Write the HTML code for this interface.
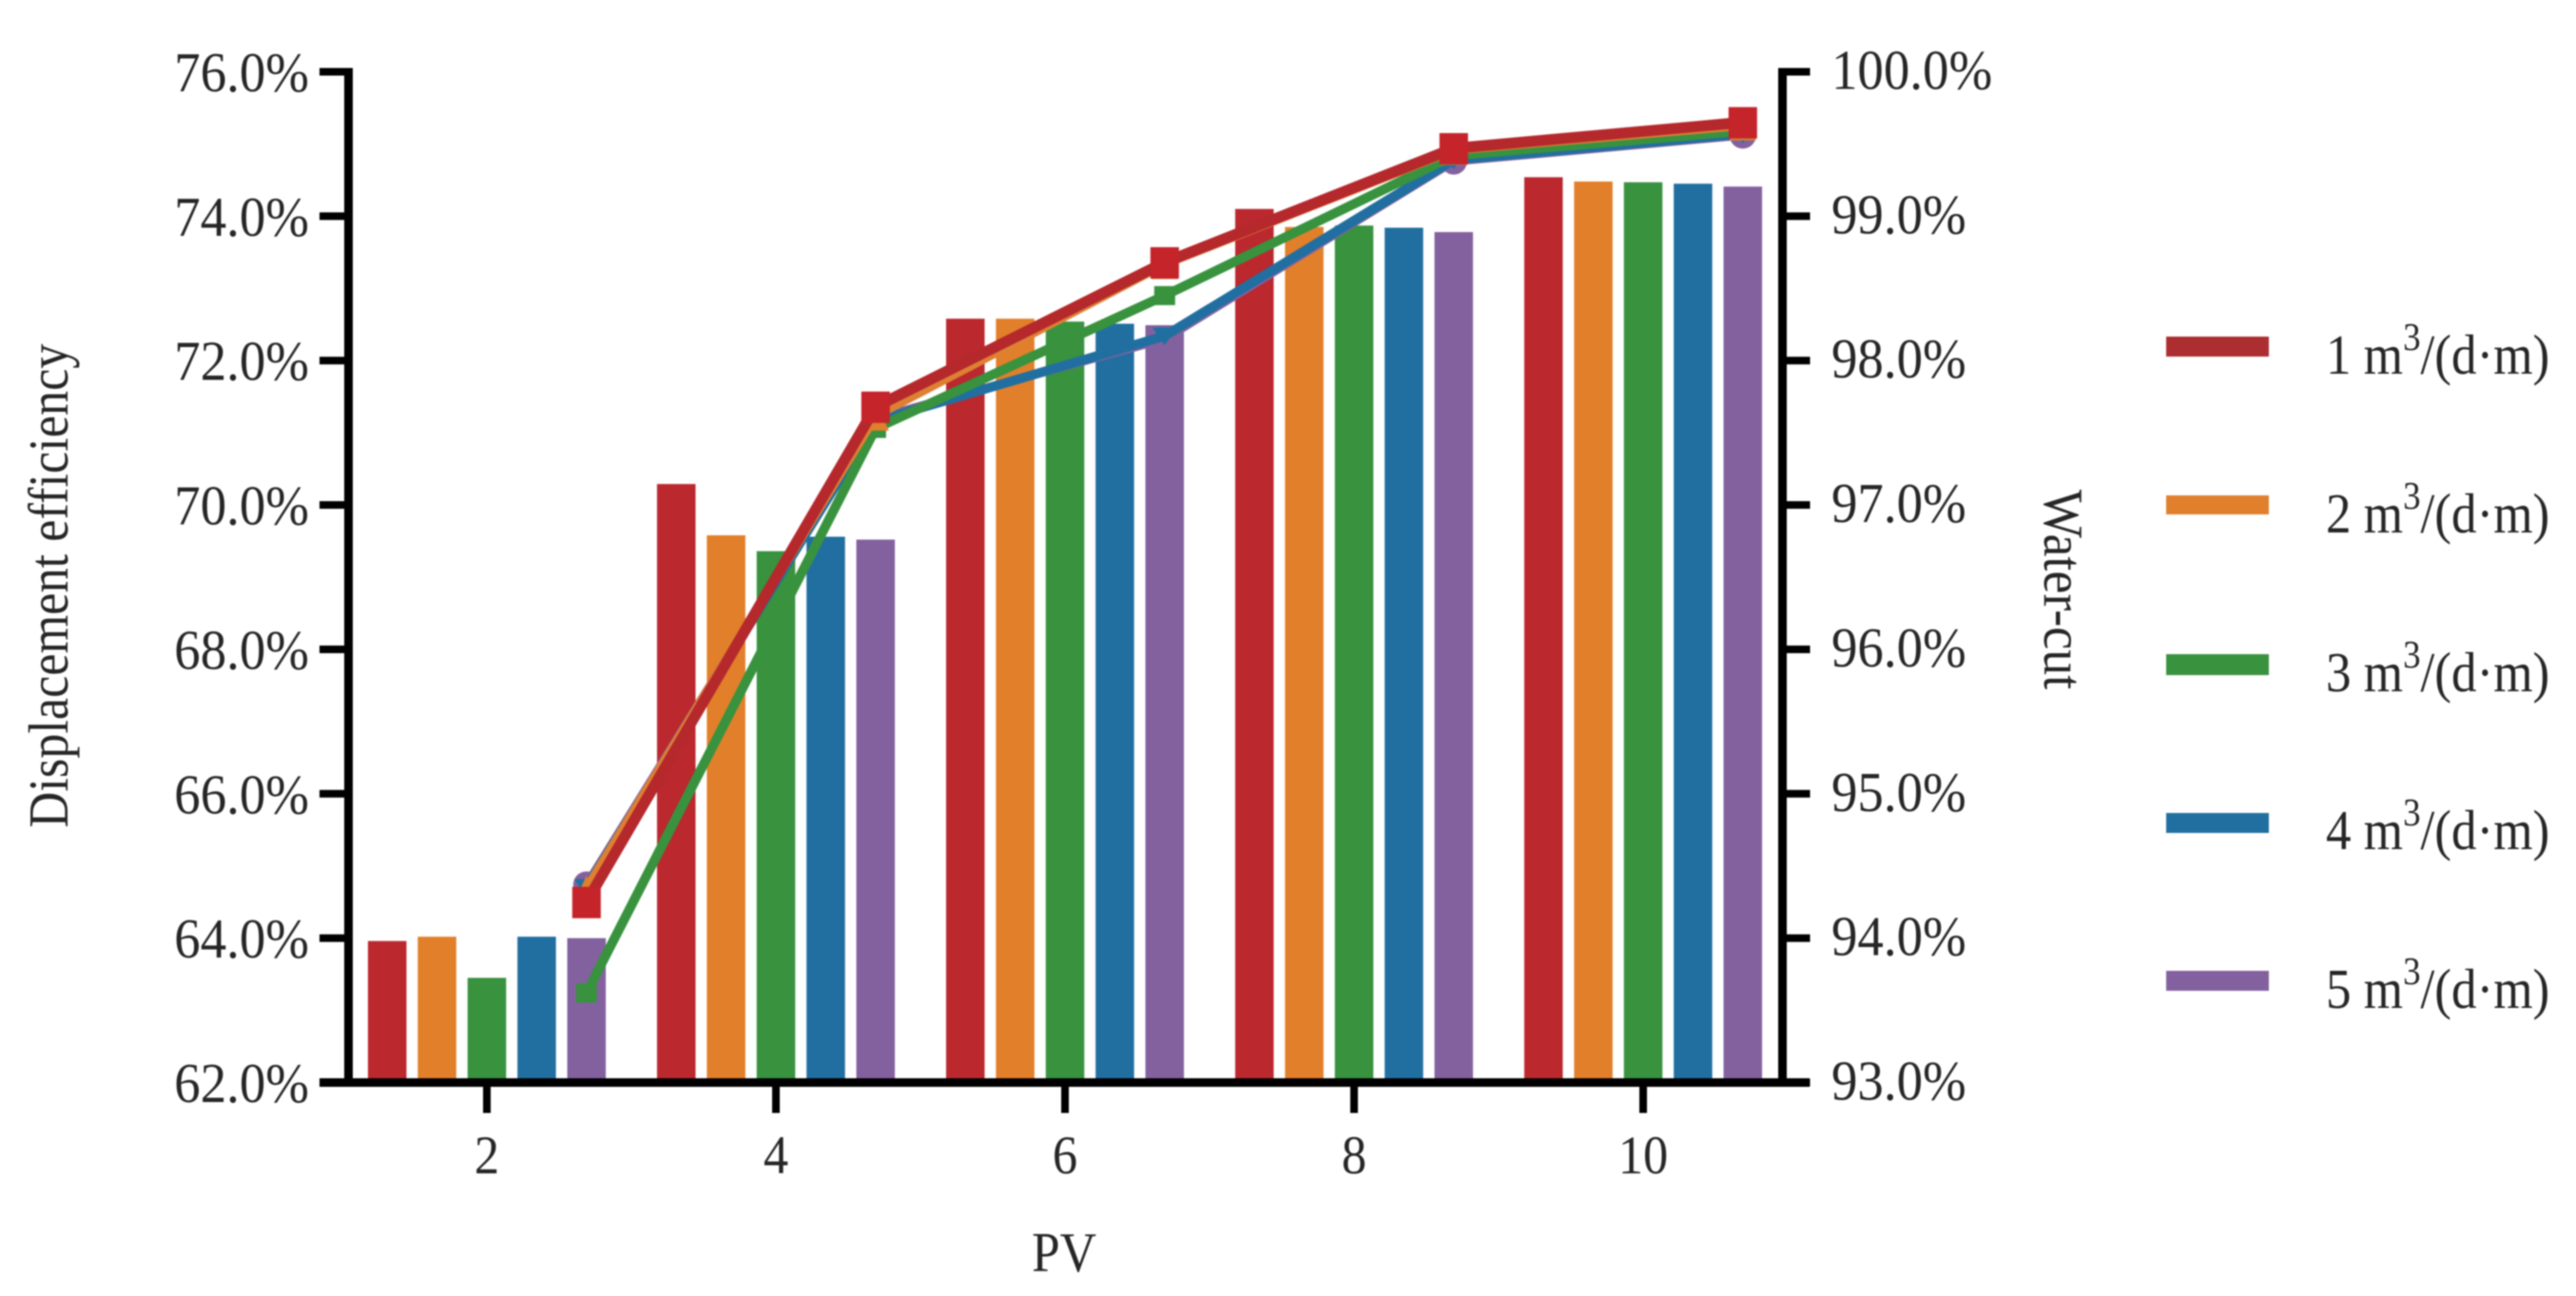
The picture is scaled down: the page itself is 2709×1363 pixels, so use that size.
<!DOCTYPE html>
<html lang="en">
<head>
<meta charset="utf-8">
<title>Displacement efficiency and water-cut versus PV</title>
<style>
  html, body { margin: 0; padding: 0; background: #fff; width: 2709px; height: 1363px; overflow: hidden; }
  svg { display: block; filter: blur(0.9px); }
  text { font-family: "Liberation Serif", serif; fill: #262626; }
</style>
</head>
<body>
<svg id="chart" width="2709" height="1363" viewBox="0 0 2709 1363" xmlns="http://www.w3.org/2000/svg">
  <rect x="0" y="0" width="2709" height="1363" fill="#ffffff"/>
  <g id="bars"></g>
  <g id="lines"></g>
  <g id="axes"></g>

  <text transform="translate(1119,1337) scale(0.9,1)" font-size="59" text-anchor="middle">PV</text>
  <text transform="translate(71,616) rotate(-90) scale(0.887,1)" font-size="59" text-anchor="middle">Displacement efficiency</text>
  <text transform="translate(2150,620) rotate(90) scale(0.915,1)" font-size="59" text-anchor="middle">Water-cut</text>

  <g>
    <g>
      <rect x="2278" y="354" width="108" height="21" fill="#ad2e30"/>
      <text transform="translate(2446,393) scale(0.9,1)" font-size="59">1 m<tspan font-size="41" dy="-25">3</tspan><tspan dy="25">/(d·m)</tspan></text>
    </g>
    <g>
      <rect x="2278" y="521" width="108" height="20" fill="#e07f2c"/>
      <text transform="translate(2446,560) scale(0.9,1)" font-size="59">2 m<tspan font-size="41" dy="-25">3</tspan><tspan dy="25">/(d·m)</tspan></text>
    </g>
    <g>
      <rect x="2278" y="688" width="108" height="22" fill="#38923e"/>
      <text transform="translate(2446,727) scale(0.9,1)" font-size="59">3 m<tspan font-size="41" dy="-25">3</tspan><tspan dy="25">/(d·m)</tspan></text>
    </g>
    <g>
      <rect x="2278" y="855" width="108" height="21" fill="#216fa0"/>
      <text transform="translate(2446,893) scale(0.9,1)" font-size="59">4 m<tspan font-size="41" dy="-25">3</tspan><tspan dy="25">/(d·m)</tspan></text>
    </g>
    <g>
      <rect x="2278" y="1021" width="108" height="21" fill="#83619f"/>
      <text transform="translate(2446,1060) scale(0.9,1)" font-size="59">5 m<tspan font-size="41" dy="-25">3</tspan><tspan dy="25">/(d·m)</tspan></text>
    </g>
  </g>
</svg>

<script>
// ---- data ----
const categories = [2, 4, 6, 8, 10];
const seriesNames = ['1-m3', '2-m3', '3-m3', '4-m3', '5-m3'];

const efficiency1 = [63.96, 70.29, 72.58, 74.10, 74.54];
const efficiency2 = [64.02, 69.58, 72.58, 73.85, 74.48];
const efficiency3 = [63.45, 69.36, 72.54, 73.87, 74.47];
const efficiency4 = [64.02, 69.56, 72.51, 73.84, 74.45];
const efficiency5 = [64.00, 69.52, 72.49, 73.78, 74.41];

const waterCut1 = [94.25, 97.68, 98.68, 99.47, 99.65];
const waterCut2 = [94.34, 97.62, 98.67, 99.46, 99.63];
const waterCut3 = [93.62, 97.53, 98.45, 99.42, 99.59];
const waterCut4 = [94.35, 97.58, 98.17, 99.39, 99.57];
const waterCut5 = [94.37, 97.60, 98.15, 99.38, 99.56];

const leftTicks = [62, 64, 66, 68, 70, 72, 74, 76];
const rightTicks = [93, 94, 95, 96, 97, 98, 99, 100];

// ---- layout ----
const efficiencySeries = [efficiency1, efficiency2, efficiency3, efficiency4, efficiency5];
const waterCutSeries = [waterCut1, waterCut2, waterCut3, waterCut4, waterCut5];
const barColors = ['#bb282e', '#e27f2a', '#38923e', '#216fa0', '#83619f'];
const lineColors = ['#b5282c', '#dd8033', '#38923e', '#216fa0', '#83619f'];
const lineWidths = [11.5, 10, 10, 10, 9];

const plotTop = 75.5, plotBottom = 1138.5;
const leftAxisX = 366.5, rightAxisX = 1874.5;
const barWidth = 40.5, barStep = 52.4;

function xScale(pv) { return 512 + (pv - 2) * 152; }
function yLeft(v) { return plotBottom - (v - 62) / (76 - 62) * (plotBottom - plotTop); }
function yRight(v) { return plotBottom - (v - 93) / (100 - 93) * (plotBottom - plotTop); }
function slotX(pv, s) { return xScale(pv) + (s - 2) * barStep; }

const NS = 'http://www.w3.org/2000/svg';
function make(tag, parent) {
  const el = document.createElementNS(NS, tag);
  parent.appendChild(el);
  return el;
}

// ---- bars ----
const barsGroup = document.getElementById('bars');
categories.forEach(function (pv, c) {
  efficiencySeries.forEach(function (values, s) {
    const bar = make('rect', barsGroup);
    
    
    const top = yLeft(values[c]);
    bar.setAttribute('x', slotX(pv, s) - barWidth / 2);
    bar.setAttribute('y', top);
    bar.setAttribute('width', barWidth);
    bar.setAttribute('height', plotBottom - top);
    bar.setAttribute('fill', barColors[s]);
  });
});

// ---- lines and markers (last series first so 1 m3 is on top) ----
const linesGroup = document.getElementById('lines');
function drawMarker(s, cx, cy, parent) {
  let m;
  if (s === 0) {
    m = make('rect', parent);
    m.setAttribute('x', cx - 15);
    m.setAttribute('y', cy - 16);
    m.setAttribute('width', 30);
    m.setAttribute('height', 33);
    m.setAttribute('fill', '#c4242a');
  } else if (s === 1) {
    m = make('polygon', parent);
    m.setAttribute('points', [cx, cy - 14, cx + 14, cy + 16, cx - 14, cy + 16].join(' '));
    m.setAttribute('fill', '#e07f2c');
  } else if (s === 2) {
    m = make('rect', parent);
    m.setAttribute('x', cx - 11);
    m.setAttribute('y', cy - 10);
    m.setAttribute('width', 22);
    m.setAttribute('height', 20);
    m.setAttribute('fill', '#38923e');
  } else if (s === 3) {
    m = make('polygon', parent);
    m.setAttribute('points', [cx - 13, cy - 9, cx + 13, cy - 9, cx, cy + 10].join(' '));
    m.setAttribute('fill', '#216fa0');
  } else {
    m = make('circle', parent);
    m.setAttribute('cx', cx);
    m.setAttribute('cy', cy);
    m.setAttribute('r', 14);
    m.setAttribute('fill', '#83619f');
  }
  return m;
}
for (let s = waterCutSeries.length - 1; s >= 0; s--) {
  const values = waterCutSeries[s];
  const group = make('g', linesGroup);
  
  
  const line = make('polyline', group);
  
  
  line.setAttribute('points', categories.map(function (pv, c) {
    return slotX(pv, 4) + ',' + yRight(values[c]);
  }).join(' '));
  line.setAttribute('fill', 'none');
  line.setAttribute('stroke', lineColors[s]);
  line.setAttribute('stroke-width', lineWidths[s]);
  categories.forEach(function (pv, c) {
    const marker = drawMarker(s, slotX(pv, 4), yRight(values[c]), group);
    
    
  });
}

// ---- axes ----
const axesGroup = document.getElementById('axes');
function axisRect(x, y, w, h, name) {
  const r = make('rect', axesGroup);
  
  
  r.setAttribute('x', x);
  r.setAttribute('y', y);
  r.setAttribute('width', w);
  r.setAttribute('height', h);
  r.setAttribute('fill', '#000');
}
axisRect(leftAxisX - 4.5, plotTop - 4, 9, plotBottom - plotTop + 8.5, 'left-y-axis-line');
axisRect(rightAxisX - 4.5, plotTop - 4, 9, plotBottom - plotTop + 8.5, 'right-y-axis-line');
axisRect(336, plotBottom - 4.5, 1567, 9, 'x-axis-line');

leftTicks.forEach(function (v) {
  const y = yLeft(v);
  axisRect(336, y - 4, 30, 8, 'left-tick-' + v);
  const t = make('text', axesGroup);
  
  
  t.setAttribute('transform', 'translate(325,' + (y + 20.5) + ') scale(0.93,1)');
  t.setAttribute('font-size', '59');
  t.setAttribute('text-anchor', 'end');
  t.textContent = v.toFixed(1) + '%';
});
rightTicks.forEach(function (v) {
  const y = yRight(v);
  axisRect(rightAxisX, y - 4, 29, 8, 'right-tick-' + v);
  const t = make('text', axesGroup);
  
  
  t.setAttribute('transform', 'translate(1926,' + (y + 18) + ') scale(0.93,1)');
  t.setAttribute('font-size', '59');
  t.textContent = v.toFixed(1) + '%';
});
categories.forEach(function (pv) {
  const x = xScale(pv);
  axisRect(x - 4, plotBottom, 8, 32, 'x-tick-' + pv);
  const t = make('text', axesGroup);
  
  
  t.setAttribute('transform', 'translate(' + x + ',1234) scale(0.92,1)');
  t.setAttribute('font-size', '57');
  t.setAttribute('text-anchor', 'middle');
  t.textContent = String(pv);
});
</script>
</body>
</html>
